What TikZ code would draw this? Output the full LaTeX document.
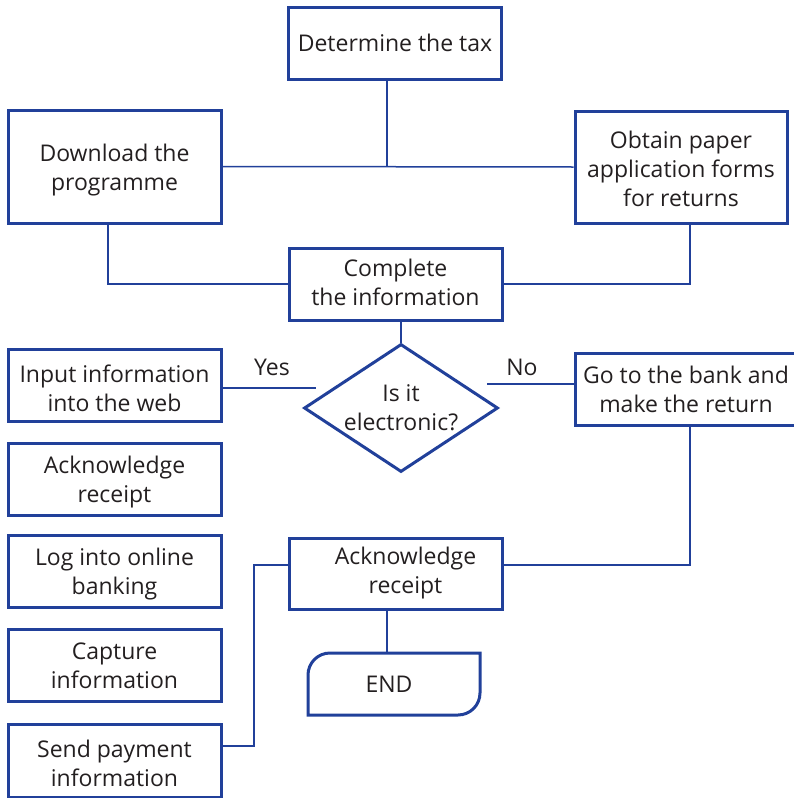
\documentclass[tikz,border=0pt]{standalone}
\usepackage{fontspec}
\setmainfont{Open Sans}
\usetikzlibrary{shapes.geometric}
\definecolor{frameblue}{RGB}{33,64,154}
\definecolor{inkgray}{RGB}{35,31,32}
% invisible struts to nudge a box's lines down (tall first line) or up (deep last line)
\newcommand\tallfirst[1]{\rule{0pt}{#1pt}}
\newcommand\deeplast[1]{\rule[-#1pt]{0pt}{#1pt}}
\begin{document}
\begin{tikzpicture}[x=1pt,y=-1pt,
  font=\fontsize{23}{29}\selectfont,
  every node/.style={text=inkgray},
  procbox/.style={draw=frameblue,line width=3pt,rectangle,align=center,inner sep=0pt},
  decbox/.style={draw=frameblue,line width=3pt,diamond,align=center,inner sep=0pt,
    minimum width=194pt,minimum height=128pt,shape aspect=1.5},
  link/.style={draw=frameblue,line width=1.5pt},
  lbl/.style={inner sep=0pt}]
\useasboundingbox (0,0) rectangle (793,798);

% upper part
\node[procbox,minimum width=213pt,minimum height=72pt] (tax) at (395,43) {Determine the tax};
\node[procbox,minimum width=213pt,minimum height=113pt] (dl) at (114.5,166.5) {\tallfirst{24}Download the\\programme};
\node[procbox,minimum width=212pt,minimum height=112pt] (paper) at (681,167) {\tallfirst{22}Obtain paper\\application forms\\for returns};
\node[procbox,minimum width=213pt,minimum height=72pt] (complete) at (395.5,284) {Complete\\the information\deeplast{4}};
\node[decbox] (dec) at (401,408) {Is it\\electronic?};

% electronic branch (left column)
\node[procbox,minimum width=213pt,minimum height=72pt] (web) at (114.5,385) {\tallfirst{24}Input information\\into the web};
\node[procbox,minimum width=213pt,minimum height=72pt] (ackA) at (114.5,479) {\tallfirst{24}Acknowledge\\receipt};
\node[procbox,minimum width=213pt,minimum height=72pt] (bank) at (114.5,571) {\tallfirst{24}Log into online\\banking};
\node[procbox,minimum width=213pt,minimum height=72pt] (capture) at (114.5,665.5) {Capture\\information};
\node[procbox,minimum width=213pt,minimum height=73pt] (send) at (114.5,760.5) {\tallfirst{24}Send payment\\information};

% paper branch
\node[procbox,minimum width=222pt,minimum height=72pt] (goBank) at (686,389) {Go to the bank and\\make the return};
\node[procbox,minimum width=213pt,minimum height=71pt] (ackB) at (395.5,573.5) {\hspace*{20pt}Acknowledge\\\hspace*{20pt}receipt};

% terminator: rounded top-left and bottom-right corners
\draw[frameblue,line width=3pt] (308,715) -- (308,675) arc[start angle=180,end angle=90,radius=22pt]
  -- (480,653) -- (480,693) arc[start angle=0,end angle=-90,radius=22pt] -- cycle;
\node[lbl] (finish) at (389,684) {END};

% connector points
\coordinate (taxDrop) at (387,167);
\coordinate (dlDrop) at (108,284);
\coordinate (paperDrop) at (690,284);
\coordinate (yesEnd) at (316,388);
\coordinate (noStart) at (487,384);
\coordinate (bankDrop) at (690,565);
\coordinate (payTurn) at (254,746);
\coordinate (endDrop) at (387,653);

% connectors
\draw[link] (dl.east) -- (paper.west);
\draw[link] (taxDrop |- tax.south) -- (taxDrop);
\draw[link] (dlDrop |- dl.south) -- (dlDrop) -- (complete.west);
\draw[link] (paperDrop |- paper.south) -- (paperDrop) -- (complete.east);
\draw[link] (dec.north |- complete.south) -- (dec.north);
\draw[link] (yesEnd -| web.east) -- (yesEnd);
\draw[link] (noStart) -- (noStart -| goBank.west);
\draw[link] (bankDrop |- goBank.south) -- (bankDrop) -- (bankDrop -| ackB.east);
\draw[link] (payTurn -| send.east) -- (payTurn) -- (payTurn |- bankDrop) -- (bankDrop -| ackB.west);
\draw[link] (endDrop |- ackB.south) -- (endDrop);

% branch labels
\node[lbl] (yesLbl) at (272,367) {Yes};
\node[lbl] (noLbl) at (522,367) {No};
\end{tikzpicture}
\end{document}
